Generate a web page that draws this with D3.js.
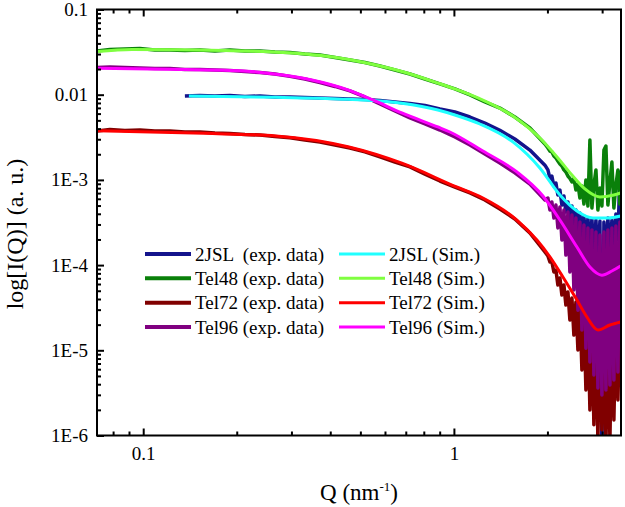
<!DOCTYPE html>
<html><head><meta charset="utf-8">
<script src="https://cdn.jsdelivr.net/npm/d3@7"></script>
<style>
body{margin:0;background:#fff}
svg{display:block}
</style>
</head><body>
<svg id="chart" width="625" height="507"></svg>
<script>
// ---------- data ----------
const qSmooth = [0.0710,0.0781,0.0873,0.0976,0.1090,0.1219,0.1362,0.1522,0.1701,0.1901,0.2125,0.2375,0.2653,0.2966,0.3315,0.3704,0.4140,0.4627,0.5171,0.5779,0.6458,0.7218,0.8067,0.9015,1.0074,1.126,1.258,1.406,1.571,1.756,1.963];
const qTail = [2.007,2.037,2.067,2.098,2.130,2.161,2.194,2.226,2.260,2.293,2.328,2.362,2.398,2.433,2.470,2.507,2.544,2.582,2.621,2.660,2.700,2.740,2.781,2.822,2.865,2.907,2.951,2.995,3.040,3.085,3.131,3.178,3.225,3.273,3.322,3.372,3.422,3.44];

const i2jslExpSmooth = [null,null,null,null,null,null,0.00966,0.00979,0.00966,0.00979,0.00953,0.00966,0.00940,0.00940,0.00927,0.00915,0.00903,0.00890,0.00878,0.00855,0.00821,0.00788,0.00747,0.00679,0.00626,0.00547,0.00465,0.00382,0.00302,0.00224,0.00149];
const i2jslExpTail = [0.00131,0.00104,0.00111,8.48e-4,9.20e-4,6.65e-4,7.61e-4,5.07e-4,6.47e-4,4.20e-4,5.51e-4,3.38e-4,4.94e-4,2.73e-4,4.43e-4,2.25e-4,4.09e-4,1.97e-4,3.77e-4,1.72e-4,3.57e-4,1.51e-4,3.48e-4,1.31e-4,3.38e-4,1.15e-4,3.29e-4,6.7e-7,3.20e-4,1.15e-4,3.57e-4,1.31e-4,3.38e-4,1.51e-4,3.98e-4,1.97e-4,0.00124,4.43e-4];

const iTel48ExpSmooth = [0.0326,0.0339,0.0344,0.0349,0.0335,0.0335,0.0330,0.0335,0.0326,0.0335,0.0326,0.0326,0.0317,0.0313,0.0301,0.0293,0.0273,0.0256,0.0239,0.0217,0.0195,0.0175,0.0153,0.0134,0.0117,0.00993,0.00821,0.00698,0.00547,0.00407,0.00264];
const iTel48ExpTail = [0.00237,0.00218,0.00213,0.00191,0.00181,0.00167,0.00154,0.00146,0.00131,0.00124,0.00111,0.00104,9.45e-4,0.00104,7.61e-4,8.95e-4,6.13e-4,8.48e-4,5.21e-4,9.97e-4,4.94e-4,0.00294,4.68e-4,8.72e-4,0.00131,4.43e-4,8.04e-4,4.94e-4,0.00224,0.00250,5.07e-4,9.45e-4,0.00162,4.68e-4,8.72e-4,0.00131,5.21e-4,0.00124];

const iTel72ExpSmooth = [0.00375,0.00390,0.00380,0.00385,0.00375,0.00375,0.00365,0.00365,0.00355,0.00350,0.00341,0.00336,0.00324,0.00313,0.00294,0.00279,0.00257,0.00237,0.00213,0.00186,0.00162,0.00142,0.00117,9.70e-4,8.25e-4,7.02e-4,5.81e-4,4.55e-4,3.48e-4,2.38e-4,1.43e-4];
const iTel72ExpTail = [1.28e-4,1.09e-4,1.09e-4,8.30e-5,8.75e-5,5.84e-5,7.06e-5,4.46e-5,5.84e-5,3.40e-5,4.83e-5,2.27e-5,4.11e-5,1.51e-5,3.69e-5,1.01e-5,3.31e-5,5.87e-6,2.81e-5,3.43e-6,2.39e-5,1.99e-6,2.15e-5,1.34e-6,1.93e-5,8.85e-7,1.73e-5,1.16e-6,1.83e-5,7.7e-7,1.98e-5,8.85e-7,2.15e-5,1.52e-6,2.27e-5,2.61e-6,2.39e-5,7.69e-6];

const iTel96ExpSmooth = [0.0209,0.0212,0.0209,0.0206,0.0203,0.0203,0.0198,0.0198,0.0195,0.0192,0.0187,0.0182,0.0175,0.0164,0.0153,0.0139,0.0125,0.0111,0.00940,0.00778,0.00643,0.00533,0.00453,0.00385,0.00319,0.00257,0.00201,0.00158,0.00121,8.95e-4,5.81e-4];
const iTel96ExpTail = [6.13e-4,4.43e-4,5.51e-4,3.57e-4,5.07e-4,2.73e-4,4.81e-4,1.97e-4,4.43e-4,1.31e-4,4.20e-4,8.30e-5,3.88e-4,5.10e-5,3.57e-4,2.96e-5,3.20e-4,1.73e-5,2.96e-4,1.06e-5,2.73e-4,7.29e-6,2.59e-4,5.13e-6,2.45e-4,3.61e-6,2.25e-4,2.99e-6,2.45e-4,3.43e-6,2.59e-4,3.92e-6,2.73e-4,4.48e-6,2.88e-4,5.57e-6,3.20e-4,1.73e-5];

const qSim2jsl = [0.1403,0.2674,0.456,0.680,0.888,1.007,1.212,1.548,1.891,2.194,2.489,2.803,3.131,3.44];
const iSim2jsl = [0.00966,0.00932,0.00883,0.00793,0.00661,0.00578,0.00453,0.00279,0.00138,6.65e-4,4.32e-4,3.57e-4,3.57e-4,3.77e-4];
const qSimTel48 = [0.071,0.092,0.1832,0.2816,0.408,0.5326,0.680,0.888,1.007,1.195,1.548,1.891,2.161,2.398,2.640,2.951,3.273,3.44];
const iSimTel48 = [0.0321,0.0339,0.0330,0.0313,0.0277,0.0232,0.0187,0.0137,0.0117,0.00917,0.00562,0.00310,0.00181,0.00114,7.83e-4,6.30e-4,6.65e-4,7.02e-4];
const qSimTel72 = [0.071,0.1568,0.2674,0.456,0.680,1.015,1.240,1.595,1.850,2.037,2.243,2.489,2.680,2.908,3.178,3.44];
const iSimTel72 = [0.00378,0.00352,0.00328,0.00245,0.00157,8.32e-4,6.13e-4,3.38e-4,1.97e-4,1.25e-4,7.25e-5,3.89e-5,2.46e-5,1.73e-5,1.98e-5,2.15e-5];
const qSimTel96 = [0.071,0.1201,0.2047,0.2816,0.349,0.456,0.5485,0.680,0.888,0.971,1.240,1.595,1.934,2.194,2.489,2.740,2.995,3.225,3.44];
const iSimTel96 = [0.0204,0.0199,0.0191,0.0170,0.0149,0.0114,0.00867,0.00610,0.00418,0.00365,0.00218,0.00124,6.47e-4,3.38e-4,1.63e-4,9.50e-5,7.62e-5,8.53e-5,9.76e-5];

const expNames = ["2JSL  (exp. data)","Tel48 (exp. data)","Tel72 (exp. data)","Tel96 (exp. data)"];
const simNames = ["2JSL (Sim.)","Tel48 (Sim.)","Tel72 (Sim.)","Tel96 (Sim.)"];
const expColors = ["#14148c","#0a800a","#800000","#800080"];
const simColors = ["#20ffff","#80ff40","#ff0000","#ff00ff"];

const xMajor = [0.1, 1];
const xMajorLabels = ["0.1","1"];
const xMinor = [0.08,0.09,0.2,0.3,0.4,0.5,0.6,0.7,0.8,0.9,2,3];
const yMajor = [1e-6,1e-5,1e-4,1e-3,0.01,0.1];
const yMajorLabels = ["1E-6","1E-5","1E-4","1E-3","0.01","0.1"];

// ---------- layout ----------
const FONT = "'Liberation Serif', 'DejaVu Serif', 'Times New Roman', Times, serif";
const L = 97, R = 621, T = 9.5, B = 435.5;
const svg = d3.select("#chart");
svg.append("rect").attr("width",625).attr("height",507).attr("fill","#fff");

const x = d3.scaleLog().domain([0.0710, 3.45]).range([L, R]);
const y = d3.scaleLog().domain([1e-6, 0.1]).range([B, T]);

svg.append("defs").append("clipPath").attr("id","clip")
  .append("rect").attr("x",L).attr("y",T).attr("width",R-L).attr("height",B-T);

const qExp = qSmooth.concat(qTail);
const expSeries = [
  i2jslExpSmooth.concat(i2jslExpTail),
  iTel48ExpSmooth.concat(iTel48ExpTail),
  iTel72ExpSmooth.concat(iTel72ExpTail),
  iTel96ExpSmooth.concat(iTel96ExpTail)
].map(arr => arr.map((v,i) => [qExp[i], v]));
const simSeries = [
  [qSim2jsl, iSim2jsl],[qSimTel48, iSimTel48],[qSimTel72, iSimTel72],[qSimTel96, iSimTel96]
].map(([q,v]) => q.map((qq,i) => [qq, v[i]]));

const g = svg.append("g").attr("clip-path","url(#clip)");
const lineExp = d3.line().defined(d => d[1] != null).x(d => x(d[0])).y(d => y(d[1]));
const lineSim = d3.line().x(d => x(d[0])).y(d => y(d[1])).curve(d3.curveMonotoneX);

expSeries.forEach((s,i) => {
  g.append("path").datum(s).attr("d", lineExp).attr("fill","none")
   .attr("stroke", expColors[i]).attr("stroke-width", 3.5).attr("stroke-linejoin","round");
});
simSeries.forEach((s,i) => {
  g.append("path").datum(s).attr("d", lineSim).attr("fill","none")
   .attr("stroke", simColors[i]).attr("stroke-width", 3);
});

// ---------- axes ----------
function styleAxis(sel){
  sel.attr("font-family", null).attr("font-size", null);
  sel.select(".domain").remove();
  sel.selectAll(".tick line").attr("stroke","#000").attr("stroke-width",2);
  sel.selectAll(".tick text").style("font-size","19px").style("font-family",FONT).attr("fill","#000");
}
const fmtX = d => xMajorLabels[xMajor.indexOf(d)];
const fmtY = d => yMajorLabels[yMajor.findIndex(v => Math.abs(Math.log10(v)-Math.log10(d))<1e-6)];

svg.append("g").attr("transform",`translate(0,${B})`)
  .call(d3.axisBottom(x).tickValues(xMajor).tickFormat(fmtX).tickSizeInner(-7).tickSizeOuter(0).tickPadding(11))
  .call(styleAxis);
svg.append("g").attr("transform",`translate(0,${B})`)
  .call(d3.axisBottom(x).tickValues(xMinor).tickFormat("").tickSizeInner(-4).tickSizeOuter(0))
  .call(styleAxis);
svg.append("g").attr("transform",`translate(0,${T})`)
  .call(d3.axisTop(x).tickValues(xMajor).tickFormat("").tickSizeInner(-7).tickSizeOuter(0))
  .call(styleAxis);
svg.append("g").attr("transform",`translate(0,${T})`)
  .call(d3.axisTop(x).tickValues(xMinor).tickFormat("").tickSizeInner(-4).tickSizeOuter(0))
  .call(styleAxis);

const yMinor = [];
yMajor.slice(0,-1).forEach(d => { for (let k=2;k<=9;k++) yMinor.push(d*k); });
svg.append("g").attr("transform",`translate(${L},0)`)
  .call(d3.axisLeft(y).tickValues(yMajor).tickFormat(fmtY).tickSizeInner(-7).tickSizeOuter(0).tickPadding(9))
  .call(styleAxis);
svg.append("g").attr("transform",`translate(${L},0)`)
  .call(d3.axisLeft(y).tickValues(yMinor).tickFormat("").tickSizeInner(-4).tickSizeOuter(0))
  .call(styleAxis);

svg.append("rect").attr("x",L).attr("y",T).attr("width",R-L).attr("height",B-T)
  .attr("fill","none").attr("stroke","#000").attr("stroke-width",2);

// titles
svg.append("text").attr("transform","translate(15,234) rotate(-90)")
  .attr("text-anchor","middle").attr("dy","0.35em")
  .style("font-size","24px").style("font-family",FONT)
  .text("log[I(Q)] (a. u.)");
const xt = svg.append("text").attr("x",359).attr("y",500).attr("text-anchor","middle")
  .style("font-size","23px").style("font-family",FONT);
xt.append("tspan").text("Q (nm");
xt.append("tspan").style("font-size","13px").attr("dy",-9).text("-1");
xt.append("tspan").attr("dy",9).text(")");

// ---------- legend ----------
const rowY = [254, 278.3, 302.7, 327];
const leg = svg.append("g");
expNames.forEach((n,i) => {
  leg.append("line").attr("x1",145).attr("x2",191).attr("y1",rowY[i]).attr("y2",rowY[i])
    .attr("stroke",expColors[i]).attr("stroke-width",4);
  leg.append("text").attr("x",195).attr("y",rowY[i]).attr("dy","0.35em")
    .style("font-size","19px").style("font-family",FONT)
    .style("white-space","pre").text(n);
});
simNames.forEach((n,i) => {
  leg.append("line").attr("x1",339).attr("x2",385).attr("y1",rowY[i]).attr("y2",rowY[i])
    .attr("stroke",simColors[i]).attr("stroke-width",3);
  leg.append("text").attr("x",389).attr("y",rowY[i]).attr("dy","0.35em")
    .style("font-size","19px").style("font-family",FONT)
    .style("white-space","pre").text(n);
});
</script>
</body></html>
